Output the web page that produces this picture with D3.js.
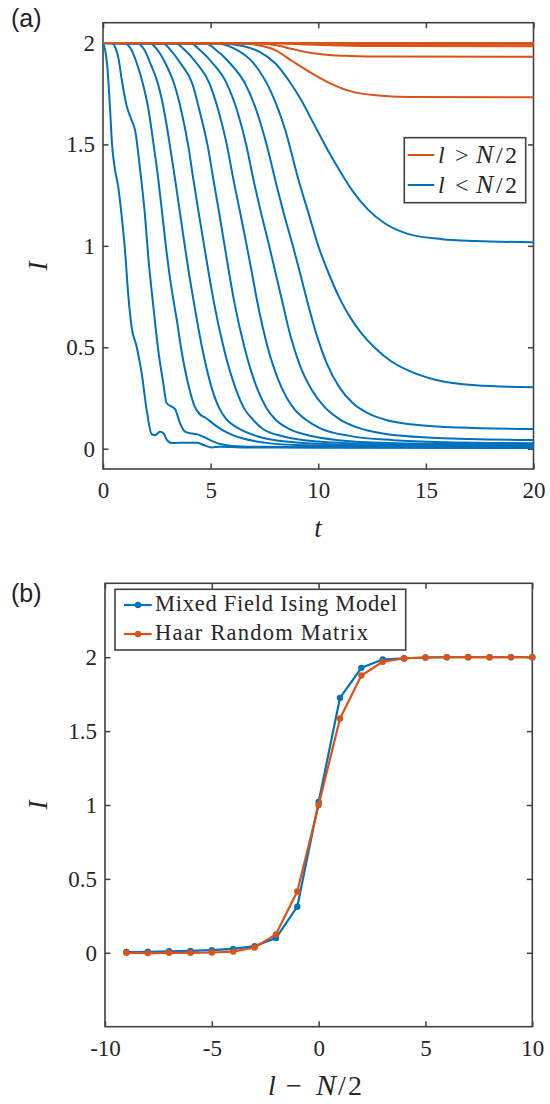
<!DOCTYPE html>
<html><head><meta charset="utf-8">
<script src="https://cdn.jsdelivr.net/npm/d3@7"></script>
<style>
body{margin:0;background:#fff}
svg text{font-family:'Liberation Serif','Times New Roman',serif}
svg text.sans{font-family:'Liberation Sans',Arial,sans-serif}
</style>
</head><body><svg id="c" width="550" height="1104"></svg>
<script>
// ---------------- DATA ----------------
// Panel (a): I(t) for each subsystem size l
const tDomain = [0, 20];
const iDomainA = [-0.1, 2.1];
const tTicks = [0, 5, 10, 15, 20];
const iTicksA = [0, 0.5, 1, 1.5, 2];

// l < N/2 (blue)
const blue1 = [[0,2],[0.1,1.965],[0.2,1.885],[0.33,1.67],[0.42,1.5],[0.56,1.375],[0.71,1.29],[0.87,1.145],[1.02,0.98],[1.18,0.75],[1.33,0.6],[1.57,0.5],[1.8,0.37],[2.03,0.19],[2.26,0.072],[2.42,0.066],[2.65,0.084],[2.81,0.076],[2.96,0.045],[3.2,0.028],[3.9,0.03],[4.36,0.03],[4.67,0.018],[5.05,0.006],[5.44,0.01],[6.5,0.006],[10,0.005],[20,0.004]];
const blue2 = [[0,2],[0.45,1.998],[0.6,1.97],[0.71,1.93],[0.87,1.82],[1.1,1.69],[1.33,1.62],[1.49,1.57],[1.72,1.38],[1.95,1.15],[2.1,0.95],[2.34,0.7],[2.55,0.5],[2.8,0.323],[2.96,0.224],[3.15,0.21],[3.35,0.195],[3.58,0.125],[3.81,0.084],[4.05,0.076],[4.36,0.072],[4.67,0.059],[5.13,0.035],[5.44,0.023],[6,0.014],[7,0.01],[10,0.008],[20,0.007]];
const blue3 = [[0,2],[1.0,1.998],[1.3,1.97],[1.57,1.9],[1.85,1.8],[2.1,1.68],[2.35,1.5],[2.57,1.326],[2.75,1.16],[2.92,1.0],[3.1,0.85],[3.27,0.734],[3.45,0.62],[3.62,0.5],[4.0,0.3],[4.25,0.21],[4.5,0.17],[4.8,0.15],[5.1,0.125],[5.5,0.095],[6.0,0.068],[6.5,0.05],[7.5,0.03],[9,0.018],[12,0.012],[20,0.010]];
const blue4 = [[0,2],[1.6,1.998],[1.9,1.97],[2.2,1.9],[2.55,1.8],[2.85,1.66],[3.1,1.5],[3.35,1.326],[3.58,1.16],[3.8,1.0],[4.0,0.86],[4.2,0.734],[4.6,0.5],[5.05,0.3],[5.4,0.2],[5.7,0.15],[6.0,0.12],[6.3,0.1],[7.2,0.06],[8.5,0.035],[11,0.02],[15,0.015],[20,0.013]];
const blue5 = [[0,2],[2.2,1.998],[2.5,1.97],[2.9,1.9],[3.3,1.8],[3.65,1.66],[3.95,1.5],[4.2,1.326],[4.45,1.16],[4.7,1.0],[4.92,0.86],[5.13,0.734],[5.6,0.5],[6.15,0.3],[6.55,0.2],[7.0,0.14],[7.4,0.1],[8.4,0.06],[10,0.035],[13,0.022],[20,0.016]];
const blue6 = [[0,2],[2.8,1.998],[3.1,1.97],[3.6,1.9],[4.15,1.8],[4.5,1.66],[4.85,1.5],[5.13,1.326],[5.4,1.16],[5.65,1.0],[5.87,0.86],[6.08,0.734],[6.57,0.5],[7.15,0.3],[7.6,0.2],[8.0,0.145],[8.6,0.1],[9.8,0.06],[11.5,0.037],[14,0.026],[20,0.02]];
const blue7 = [[0,2],[3.4,1.998],[3.75,1.97],[4.35,1.9],[4.95,1.8],[5.38,1.66],[5.75,1.5],[6.06,1.326],[6.38,1.16],[6.68,1.0],[6.93,0.86],[7.15,0.734],[7.65,0.5],[8.3,0.3],[8.85,0.2],[9.4,0.145],[10.1,0.1],[11.5,0.062],[13.5,0.042],[16,0.032],[20,0.027]];
const blue8 = [[0,2],[4.1,1.998],[4.45,1.97],[5.1,1.9],[5.75,1.8],[6.25,1.66],[6.65,1.5],[6.99,1.326],[7.35,1.16],[7.72,1.0],[8.03,0.86],[8.31,0.734],[8.7,0.56],[9.15,0.41],[9.7,0.29],[10.3,0.205],[11.0,0.145],[11.8,0.105],[13,0.075],[15.5,0.053],[20,0.043]];
const blue9 = [[0,2],[4.8,1.998],[5.2,1.97],[5.9,1.9],[6.6,1.8],[7.15,1.66],[7.6,1.5],[8.0,1.326],[8.4,1.16],[8.82,1.0],[9.17,0.86],[9.47,0.734],[9.9,0.57],[10.4,0.42],[11.0,0.3],[11.6,0.225],[12.3,0.175],[13.2,0.14],[14.5,0.118],[16.5,0.104],[20,0.097]];
const blue10 = [[0,2],[5.3,1.998],[6.06,1.975],[7.0,1.9],[7.8,1.76],[8.47,1.57],[9.08,1.326],[9.55,1.16],[10.0,1.0],[10.5,0.86],[11.0,0.74],[11.5,0.645],[12.0,0.57],[12.65,0.495],[13.4,0.43],[14.2,0.385],[15.44,0.34],[17.3,0.313],[20,0.303]];
const blue11 = [[0,2],[5.5,1.998],[6.5,1.985],[7.3,1.955],[8,1.9],[8.6,1.82],[9.2,1.72],[9.8,1.6],[10.4,1.48],[11.0,1.37],[11.6,1.27],[12.3,1.18],[13.1,1.11],[14.2,1.058],[15.75,1.033],[17.3,1.024],[20,1.018]];
const blueCurves = [blue1,blue2,blue3,blue4,blue5,blue6,blue7,blue8,blue9,blue10,blue11];

// l > N/2 (orange)
const red1 = [[0,2],[6,1.999],[6.8,1.995],[7.4,1.985],[8,1.965],[8.8,1.91],[9.55,1.86],[10.48,1.805],[11.41,1.765],[12.65,1.742],[14.2,1.734],[20,1.732]];
const red2 = [[0,2],[7,1.999],[8,1.99],[8.8,1.97],[9.55,1.953],[10.5,1.941],[11.5,1.936],[13,1.933],[20,1.932]];
const red3 = [[0,2],[8,1.999],[9.5,1.993],[11,1.988],[13,1.985],[20,1.984]];
const red4 = [[0,2],[9,1.999],[11,1.995],[14,1.993],[20,1.993]];
const red5 = [[0,2],[10,1.999],[20,1.998]];
const red6 = [[0,2],[20,2]];
const red7 = [[0,2],[20,2]];
const red8 = [[0,2],[20,2]];
const red9 = [[0,2],[20,2]];
const red10 = [[0,2],[20,2]];
const redCurves = [red1,red2,red3,red4,red5,red6,red7,red8,red9,red10];

const legendARel = ['>', '<'];

// Panel (b): I vs l - N/2
const lOffsets = [-9,-8,-7,-6,-5,-4,-3,-2,-1,0,1,2,3,4,5,6,7,8,9,10];
const mfim = [0.005,0.007,0.010,0.013,0.018,0.026,0.045,0.100,0.312,1.020,1.725,1.928,1.984,1.993,1.998,2.0,2.0,2.0,2.0,2.0];
const haar = [0.0,-0.002,0.0,0.0,0.002,0.008,0.036,0.125,0.415,1.0,1.585,1.876,1.969,1.992,1.998,2.0,2.0,2.0,2.0,2.0];
const xDomainB = [-10, 10];
const yDomainB = [-0.5, 2.5];
const xTicksB = [-10, -5, 0, 5, 10];
const yTicksB = [0, 0.5, 1, 1.5, 2];
const legendB = ['Mixed Field Ising Model', 'Haar Random Matrix'];

// ---------------- DRAW ----------------
const BLUE = '#0072BD', RED = '#D95319';
const AX = '#404040', TXT = '#262626';
const SERIF = "'Liberation Serif','Times New Roman',serif";
const svg = d3.select('#c');

const A = {x0:103, x1:533.5, y0:22.7, y1:469};
const B = {x0:105, x1:532.3, y0:583.3, y1:1026.7};

function drawAxes(box, x, y, xt, yt) {
  const g = svg.append('g');
  const fmt = d => String(d);
  g.append('g').attr('transform', `translate(0,${box.y1})`)
    .call(d3.axisBottom(x).tickValues(xt).tickSize(-5.5).tickPadding(13).tickFormat(fmt));
  g.append('g').attr('transform', `translate(0,${box.y0})`)
    .call(d3.axisTop(x).tickValues(xt).tickSize(-5.5).tickFormat(''));
  g.append('g').attr('transform', `translate(${box.x0},0)`)
    .call(d3.axisLeft(y).tickValues(yt).tickSize(-5.5).tickPadding(8).tickFormat(fmt));
  g.append('g').attr('transform', `translate(${box.x1},0)`)
    .call(d3.axisRight(y).tickValues(yt).tickSize(-5.5).tickFormat(''));
  g.selectAll('.domain').remove();
  g.selectAll('g').attr('font-size', 23).attr('font-family', SERIF);
  g.selectAll('.tick line').attr('stroke', AX).attr('stroke-width', 1.5);
  g.selectAll('.tick text').attr('fill', TXT).attr('font-size', 23)
    .style('font-family', SERIF);
  g.append('rect').attr('x', box.x0).attr('y', box.y0)
    .attr('width', box.x1 - box.x0).attr('height', box.y1 - box.y0)
    .attr('fill', 'none').attr('stroke', AX).attr('stroke-width', 1.6);
  return g;
}

// ---- Panel (a)
const xa = d3.scaleLinear().domain(tDomain).range([A.x0, A.x1]);
const ya = d3.scaleLinear().domain(iDomainA).range([A.y1, A.y0]);
const lineA = d3.line().x(d => xa(d[0])).y(d => ya(d[1])).curve(d3.curveMonotoneX);

drawAxes(A, xa, ya, tTicks, iTicksA);

const ga = svg.append('g');
ga.selectAll('path.b').data(blueCurves).join('path').attr('class','b')
  .attr('d', lineA).attr('fill','none').attr('stroke', BLUE).attr('stroke-width', 2);
ga.selectAll('path.r').data(redCurves).join('path').attr('class','r')
  .attr('d', lineA).attr('fill','none').attr('stroke', RED).attr('stroke-width', 2);

// legend (a)
const legA = svg.append('g');
legA.append('rect').attr('x', 404.3).attr('y', 137.7).attr('width', 121.4).attr('height', 65)
  .attr('fill', '#fff').attr('stroke', AX).attr('stroke-width', 1.6);
[RED, BLUE].forEach((c, i) => {
  const yy = 155 + i * 30;
  legA.append('line').attr('x1', 407.7).attr('x2', 434.3).attr('y1', yy).attr('y2', yy)
    .attr('stroke', c).attr('stroke-width', 2);
  const t = legA.append('text').attr('y', yy + 8.3).attr('font-size', 24).attr('fill', TXT);
  t.append('tspan').attr('x', 438).attr('font-style', 'italic').text('l');
  t.append('tspan').attr('x', 455).text(legendARel[i]);
  t.append('tspan').attr('x', 476).attr('font-style', 'italic').attr('font-size', 26).text('N');
  t.append('tspan').attr('x', 496).text('/');
  t.append('tspan').attr('x', 505).text('2');
});

// axis labels (a)
svg.append('text').attr('x', 318).attr('y', 537).attr('text-anchor', 'middle')
  .attr('font-style', 'italic').attr('font-size', 27).attr('fill', TXT).text('t');
svg.append('text').attr('transform', 'translate(47,266) rotate(-90)').attr('text-anchor', 'middle')
  .attr('font-style', 'italic').attr('font-size', 27).attr('fill', TXT).text('I');
svg.append('text').attr('class','sans').attr('x', 11).attr('y', 27).attr('font-size', 25)
  .attr('fill', '#222').text('(a)');

// ---- Panel (b)
const xb = d3.scaleLinear().domain(xDomainB).range([B.x0, B.x1]);
const yb = d3.scaleLinear().domain(yDomainB).range([B.y1, B.y0]);
drawAxes(B, xb, yb, xTicksB, yTicksB);

const seriesB = [
  {vals: mfim, color: BLUE},
  {vals: haar, color: RED}
];
const lineB = d3.line().x(d => xb(d[0])).y(d => yb(d[1]));
const gb = svg.append('g');
seriesB.forEach(s => {
  const pts = lOffsets.map((l, i) => [l, s.vals[i]]);
  gb.append('path').attr('d', lineB(pts)).attr('fill', 'none')
    .attr('stroke', s.color).attr('stroke-width', 2.2).attr('stroke-linejoin', 'round');
  gb.selectAll(null).data(pts).join('circle')
    .attr('cx', d => xb(d[0])).attr('cy', d => yb(d[1])).attr('r', 3.2).attr('fill', s.color);
});

// legend (b)
const legB = svg.append('g');
legB.append('rect').attr('x', 115).attr('y', 589.3).attr('width', 290.7).attr('height', 60.7)
  .attr('fill', '#fff').attr('stroke', AX).attr('stroke-width', 1.6);
const legBLen = [242, 213];
seriesB.forEach((s, i) => {
  const yy = 605 + i * 29;
  legB.append('line').attr('x1', 124).attr('x2', 151.7).attr('y1', yy).attr('y2', yy)
    .attr('stroke', s.color).attr('stroke-width', 2.2);
  legB.append('circle').attr('cx', 138).attr('cy', yy).attr('r', 3.2).attr('fill', s.color);
  legB.append('text').attr('x', 155).attr('y', yy + 5.8)
    .attr('font-size', 22.5).attr('fill', TXT)
    .attr('textLength', legBLen[i]).attr('lengthAdjust', 'spacing').text(legendB[i]);
});

// axis labels (b)
const xl = svg.append('text').attr('y', 1095).attr('font-size', 28).attr('fill', TXT);
xl.append('tspan').attr('x', 268).attr('font-style', 'italic').text('l');
xl.append('tspan').attr('x', 286).text('\u2212');
xl.append('tspan').attr('x', 316).attr('font-style', 'italic').attr('font-size', 30).text('N');
xl.append('tspan').attr('x', 338).text('/');
xl.append('tspan').attr('x', 348).text('2');
svg.append('text').attr('transform', 'translate(47,805) rotate(-90)').attr('text-anchor', 'middle')
  .attr('font-style', 'italic').attr('font-size', 27).attr('fill', TXT).text('I');
svg.append('text').attr('class','sans').attr('x', 11).attr('y', 602).attr('font-size', 25)
  .attr('fill', '#222').text('(b)');
</script>
</body></html>
